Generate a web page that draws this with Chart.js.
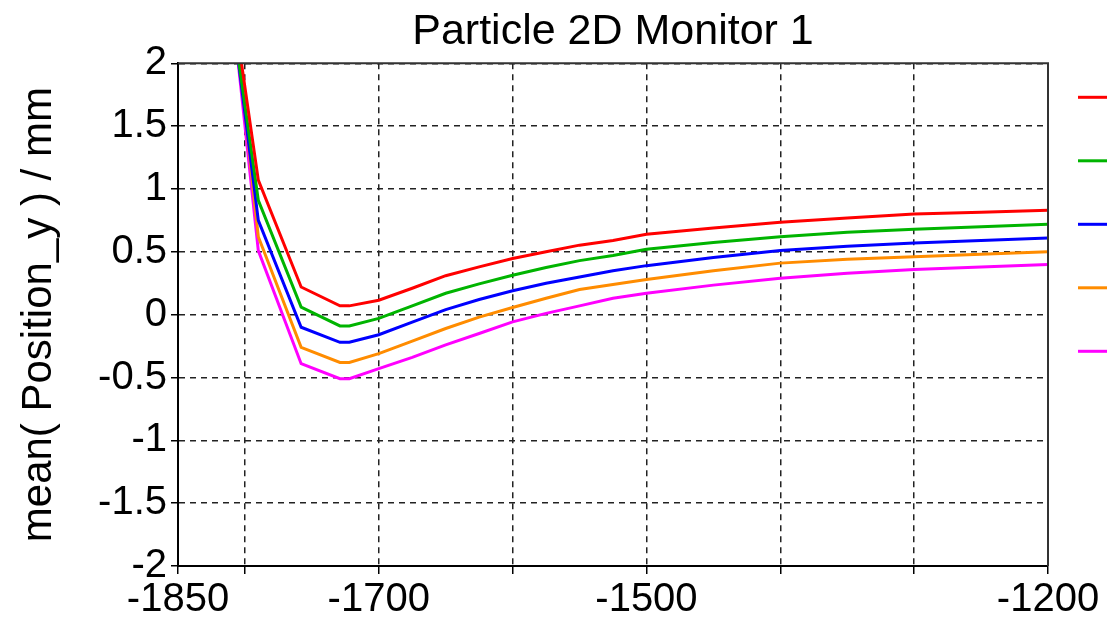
<!DOCTYPE html>
<html>
<head>
<meta charset="utf-8">
<script src="https://cdn.jsdelivr.net/npm/chart.js@4"></script>
<style>
  html, body { margin: 0; padding: 0; background: #fff; }
  #wrap { width: 1107px; height: 628px; }
</style>
</head>
<body>
<div id="wrap"><canvas id="monitorChart"></canvas></div>
<script>
// position along the monitor (x) and mean y position per run
var zPos = [-1810, -1790, -1758, -1729, -1722, -1700, -1675, -1650, -1625, -1600, -1575, -1550, -1525, -1500, -1450, -1400, -1350, -1300, -1250, -1200];
var run1 = [2.55, 1.07, 0.22, 0.07, 0.07, 0.115, 0.21, 0.31, 0.38, 0.447, 0.50, 0.553, 0.59, 0.64, 0.69, 0.735, 0.77, 0.80, 0.815, 0.83];
var run2 = [2.42, 0.91, 0.06, -0.09, -0.09, -0.03, 0.07, 0.17, 0.245, 0.314, 0.375, 0.43, 0.47, 0.52, 0.575, 0.62, 0.655, 0.68, 0.70, 0.72];
var run3 = [2.45, 0.75, -0.10, -0.22, -0.22, -0.16, -0.06, 0.04, 0.12, 0.19, 0.25, 0.30, 0.35, 0.39, 0.455, 0.51, 0.545, 0.57, 0.59, 0.61];
var run4 = [2.6, 0.62, -0.26, -0.38, -0.38, -0.31, -0.21, -0.11, -0.02, 0.057, 0.13, 0.20, 0.24, 0.28, 0.35, 0.41, 0.44, 0.46, 0.48, 0.50];
var run5 = [2.5, 0.51, -0.39, -0.51, -0.51, -0.43, -0.34, -0.24, -0.15, -0.057, 0.01, 0.07, 0.13, 0.17, 0.235, 0.29, 0.33, 0.36, 0.38, 0.40];

var xGridTicks = [-1850, -1800, -1700, -1600, -1500, -1400, -1300, -1200];
var xLabelTicks = [-1850, -1700, -1500, -1200];

var runColors = ['#ff0000', '#00b400', '#0000ff', '#ff8c00', '#ff00ff'];
var runs = [run1, run2, run3, run4, run5];

function toPoints(ys) {
  return zPos.map(function (x, i) { return { x: x, y: ys[i] }; });
}

// frame on top/right + the unlabeled legend strokes at the right edge
var framePlugin = {
  id: 'frame',
  afterDraw: function (chart) {
    var ctx = chart.ctx, a = chart.chartArea;
    ctx.save();
    ctx.strokeStyle = '#333';
    ctx.lineWidth = 2;
    ctx.beginPath();
    ctx.moveTo(a.left, a.top);
    ctx.lineTo(a.right, a.top);
    ctx.lineTo(a.right, a.bottom);
    ctx.stroke();
    ctx.lineWidth = 3;
    runColors.forEach(function (c, i) {
      var y = a.top + 34 + i * 63.5;
      ctx.strokeStyle = c;
      ctx.beginPath();
      ctx.moveTo(a.right + 30, y);
      ctx.lineTo(chart.width, y);
      ctx.stroke();
    });
    ctx.restore();
  }
};

Chart.defaults.font.family = '"Liberation Sans", Arial, sans-serif';
Chart.defaults.color = '#000';

var chart = new Chart(document.getElementById('monitorChart'), {
  type: 'line',
  data: {
    datasets: runs.map(function (r, i) {
      return {
        label: 'run ' + (i + 1),
        data: toPoints(r),
        borderColor: runColors[i],
        borderWidth: 3,
        pointRadius: 0,
        tension: 0,
        clip: 0
      };
    })
  },
  options: {
    responsive: true,
    maintainAspectRatio: false,
    animation: false,
    layout: { padding: { right: 59 } },
    plugins: {
      legend: { display: false },
      tooltip: { enabled: false },
      title: {
        display: true,
        fullSize: false,
        text: 'Particle 2D Monitor 1',
        font: { size: 43, weight: 'normal', lineHeight: 1.1 },
        padding: { top: 8, bottom: 8 }
      }
    },
    scales: {
      x: {
        type: 'linear',
        min: -1850,
        max: -1200,
        afterBuildTicks: function (scale) {
          scale.ticks = xGridTicks.map(function (v) { return { value: v }; });
        },
        afterFit: function (scale) { scale.height = 62; },
        ticks: {
          autoSkip: false,
          maxRotation: 0,
          padding: 2,
          font: { size: 40 },
          callback: function (v) { return xLabelTicks.indexOf(v) >= 0 ? String(v) : ''; }
        },
        grid: {
          color: '#222',
          lineWidth: 1.5,
          tickLength: 8,
          tickColor: '#000',
          tickWidth: 1.5
        },
        border: { display: true, color: '#000', width: 2, dash: [6, 5] }
      },
      y: {
        min: -2,
        max: 2,
        afterFit: function (scale) { scale.width = 178; },
        ticks: {
          stepSize: 0.5,
          padding: 4,
          font: { size: 40 },
          callback: function (v) { return String(v); }
        },
        grid: {
          color: '#222',
          lineWidth: 1.5,
          tickLength: 7,
          tickColor: '#000',
          tickWidth: 1.5
        },
        border: { display: true, color: '#000', width: 2, dash: [6, 5] },
        title: {
          display: true,
          text: 'mean( Position_y ) / mm',
          font: { size: 42 },
          padding: { top: 14, bottom: 0 }
        }
      }
    }
  },
  plugins: [framePlugin]
});
</script>
</body>
</html>
